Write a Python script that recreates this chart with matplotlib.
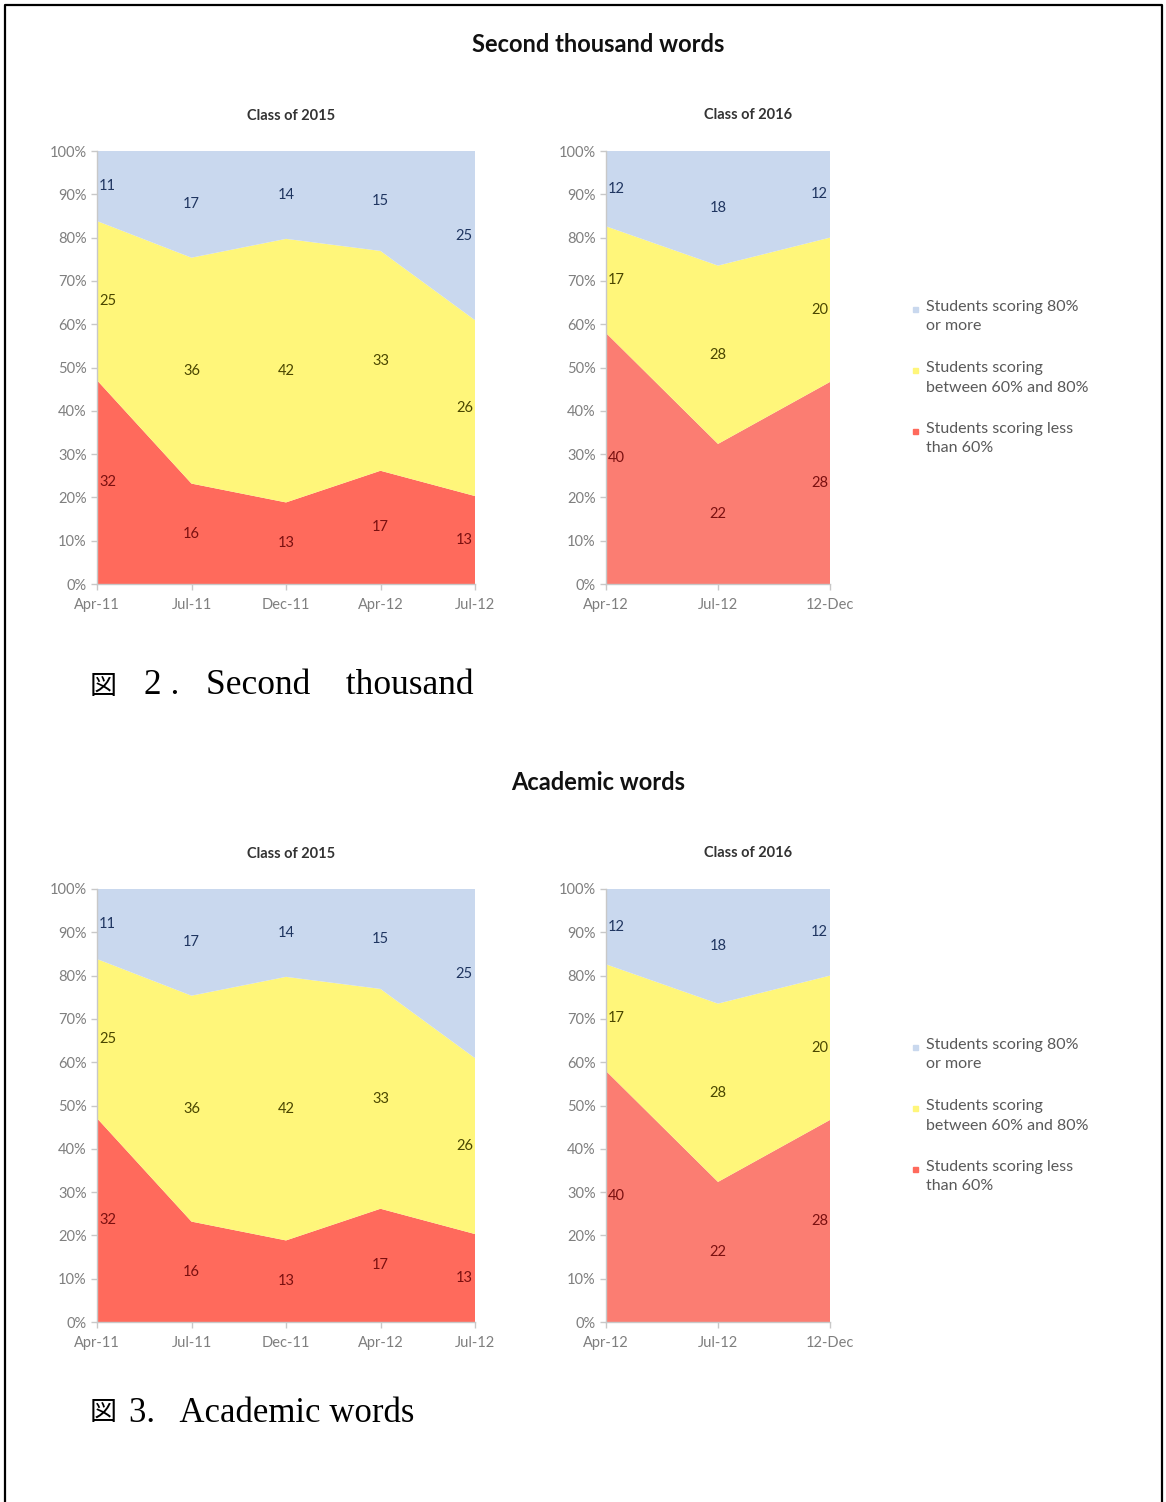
import numpy as np
import matplotlib
matplotlib.use('Agg')
import matplotlib.pyplot as plt
from matplotlib.lines import Line2D
from matplotlib.patches import Rectangle
from matplotlib.ticker import FuncFormatter

W, H = 1166, 1502

# vocabulary test results (number of students in each band)
dates_2015 = ['Apr-11', 'Jul-11', 'Dec-11', 'Apr-12', 'Jul-12']
low_2015 = [32, 16, 13, 17, 13]
mid_2015 = [25, 36, 42, 33, 26]
high_2015 = [11, 17, 14, 15, 25]

dates_2016 = ['Apr-12', 'Jul-12', '12-Dec']
low_2016 = [40, 22, 28]
mid_2016 = [17, 28, 20]
high_2016 = [12, 18, 12]

legend_labels = ['Students scoring 80%\nor more',
                 'Students scoring\nbetween 60% and 80%',
                 'Students scoring less\nthan 60%']

BLUE = '#c9d8ee'
YELLOW = '#fff67a'
RED_2015 = '#ff6a5c'
RED_2016 = '#fb7d72'
LABEL_COLORS = ['#7a1010', '#4a4600', '#1f3560']
GRAY = '#7f7f7f'
FONT = 'Lato'

fig = plt.figure(figsize=(W / 100, H / 100), dpi=100)


def box(x0, y0, x1, y1):
    return [x0 / W, 1 - y1 / H, (x1 - x0) / W, (y1 - y0) / H]


def fx(x):
    return x / W


def fy(y):
    return 1 - y / H


def stacked_panel(rect, dates, low, mid, high, red, title, title_xy):
    ax = fig.add_axes(box(*rect))
    x = np.arange(len(dates))
    counts = np.array([low, mid, high], dtype=float)
    shares = counts / counts.sum(axis=0) * 100
    ax.stackplot(x, shares, colors=[red, YELLOW, BLUE], linewidth=0)

    cum = np.cumsum(shares, axis=0)
    last = len(dates) - 1
    for band in range(3):
        for i in x:
            yc = cum[band, i] - shares[band, i] / 2
            if i == 0:
                ha, dx = 'left', 1.5
            elif i == last:
                ha, dx = 'right', -1.5
            else:
                ha, dx = 'center', 0
            ax.annotate(str(int(counts[band, i])), (i, yc), xytext=(dx, 0),
                        textcoords='offset points', ha=ha, va='center',
                        fontsize=10.5, family=FONT, color=LABEL_COLORS[band],
                        annotation_clip=False)

    ax.set_xlim(0, last)
    ax.set_ylim(0, 100)
    ax.set_xticks(x)
    ax.set_xticklabels(dates)
    ax.set_yticks(np.arange(0, 101, 10))
    ax.yaxis.set_major_formatter(FuncFormatter(lambda v, p: f'{int(v)}%'))
    for side in ('top', 'right'):
        ax.spines[side].set_visible(False)
    for side in ('left', 'bottom'):
        ax.spines[side].set_color('#c8c8c8')
        ax.spines[side].set_linewidth(1)
    ax.tick_params(colors='#c8c8c8', labelcolor=GRAY, length=4, width=1,
                   labelsize=10.5)
    ax.tick_params(axis='x', pad=6)
    for lab in ax.get_xticklabels() + ax.get_yticklabels():
        lab.set_family(FONT)

    fig.text(fx(title_xy[0]), fy(title_xy[1]), title, ha='center', va='center',
             fontsize=10.5, fontweight='bold', family=FONT, color='#333333')
    return ax


def legend_block(top):
    colors = [BLUE, YELLOW, RED_2015]
    for k, (lab, col) in enumerate(zip(legend_labels, colors)):
        y = top + k * 61
        fig.patches.append(Rectangle((fx(913), fy(y + 2)), 5 / W, 5 / H,
                                     transform=fig.transFigure, color=col))
        fig.text(fx(926), fy(y - 10), lab, ha='left', va='top', fontsize=11.5,
                 family=FONT, color='#595959', linespacing=1.5)


def section(dy, heading):
    fig.text(fx(598), fy(45 + dy), heading, ha='center', va='center',
             fontsize=17, fontweight='bold', family=FONT, color='#111111')
    stacked_panel((97, 151 + dy, 475, 584 + dy), dates_2015, low_2015,
                  mid_2015, high_2015, RED_2015, 'Class of 2015', (291, 116 + dy))
    stacked_panel((606, 151 + dy, 830, 584 + dy), dates_2016, low_2016,
                  mid_2016, high_2016, RED_2016, 'Class of 2016', (748, 115 + dy))
    legend_block(310 + dy)


section(0, 'Second thousand words')
section(738, 'Academic words')

# figure captions
serif = ['Liberation Serif', 'Noto Sans CJK JP']
fig.text(fx(90), fy(686), '図', ha='left', va='center', fontsize=19.5,
         family='Noto Sans CJK JP', color='black')
fig.text(fx(144), fy(686), '2 .   Second    thousand', ha='left',
         va='center', fontsize=25.5, family=serif, color='black')
fig.text(fx(90), fy(1413), '図', ha='left', va='center', fontsize=19.5,
         family='Noto Sans CJK JP', color='black')
fig.text(fx(129), fy(1413), '3.   Academic words', ha='left',
         va='center', fontsize=25, family=serif, color='black')

# page frame (open at the bottom)
fig.lines.append(Line2D([fx(5), fx(5), fx(1162), fx(1162)],
                        [0, fy(5), fy(5), 0], transform=fig.transFigure,
                        color='black', linewidth=1.6))

fig.savefig('out.png', dpi=100, facecolor='white')
